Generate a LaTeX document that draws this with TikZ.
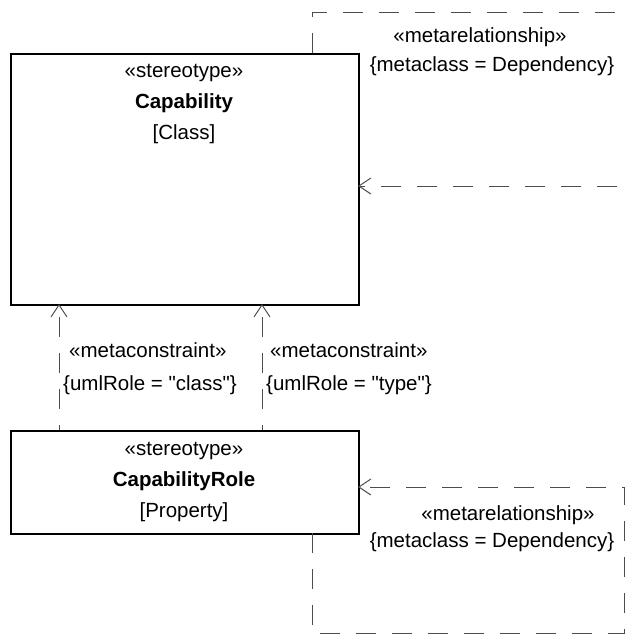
\documentclass[tikz,border=0pt]{standalone}
\usepackage{fontspec}
\setmainfont{Liberation Sans}[Ligatures=TeXOff]
\usetikzlibrary{arrows.meta,calc}
\begin{document}
\begin{tikzpicture}[x=1pt,y=-1pt,
  umlbox/.style={draw=black,line width=1.6pt,fill=white,inner sep=0pt},
  conn/.style={draw=black!70,line width=1pt,dash pattern=on 20pt off 16pt},
  openarrow/.style={-{Straight Barb[length=12pt,width=16pt,line width=1pt]}},
  lbl/.style={font=\fontsize{20.5}{24}\selectfont,inner sep=0pt,text=black},
  boxtxt/.style={font=\fontsize{20.5}{24}\selectfont,inner sep=0pt,text=black}]
\useasboundingbox (0,0) rectangle (628,635);
\begin{scope}
\clip (0,0) rectangle (628,635);
% boxes
\node[umlbox,minimum width=348pt,minimum height=251pt,anchor=north west] (cap) at (10,53) {};
\node[umlbox,minimum width=348pt,minimum height=103pt,anchor=north west] (role) at (10,430) {};
\node[boxtxt] (capst) at (184,73) {«stereotype»};
\node[boxtxt,font=\fontsize{20.5}{24}\selectfont\bfseries] (capnm) at (184,103) {Capability};
\node[boxtxt] (capmc) at (184,134) {[Class]};
\node[boxtxt] (rolest) at (184,451) {«stereotype»};
\node[boxtxt,font=\fontsize{20.5}{24}\selectfont\bfseries] (rolenm) at (184,481) {CapabilityRole};
\node[boxtxt] (rolemc) at (184,512) {[Property]};
% coordinates for loops
\coordinate (t1) at (312,53);
\coordinate (t2) at (312,12);
\coordinate (t3) at (645,12);
\coordinate (t4) at (645,186);
\coordinate (t5) at (358,186);
\coordinate (b1) at (312,533);
\coordinate (b2) at (312,633);
\coordinate (b3) at (624,633);
\coordinate (b4) at (624,487);
\coordinate (b5) at (358,487);
\draw[conn,openarrow] (t1) -- (t2) -- (t3) -- (t4) -- (t5);
\draw[conn,openarrow] (b1) -- (b2) -- (b3) -- (b4) -- (b5);
% metaconstraints
\coordinate (m1s) at (59,430);
\coordinate (m1e) at (59,304);
\coordinate (m2s) at (262,430);
\coordinate (m2e) at (262,304);
\draw[conn,openarrow,dash phase=15pt] (m1s) -- (m1e);
\draw[conn,openarrow,dash phase=15pt] (m2s) -- (m2e);
% labels
\node[lbl] (mr1) at (480,37) {«metarelationship»};
\node[lbl] (mc1) at (492,66) {\{metaclass = Dependency\}};
\node[lbl] (mr2) at (508,515) {«metarelationship»};
\node[lbl] (mc2) at (492,542) {\{metaclass = Dependency\}};
\node[lbl,anchor=west] (k1) at (69,350) {«metaconstraint»};
\node[lbl,anchor=west] (k2) at (63,385) {\{umlRole = "class"\}};
\node[lbl,anchor=west] (k3) at (270,350) {«metaconstraint»};
\node[lbl,anchor=west] (k4) at (266,385) {\{umlRole = "type"\}};
\end{scope}
\end{tikzpicture}
\end{document}
